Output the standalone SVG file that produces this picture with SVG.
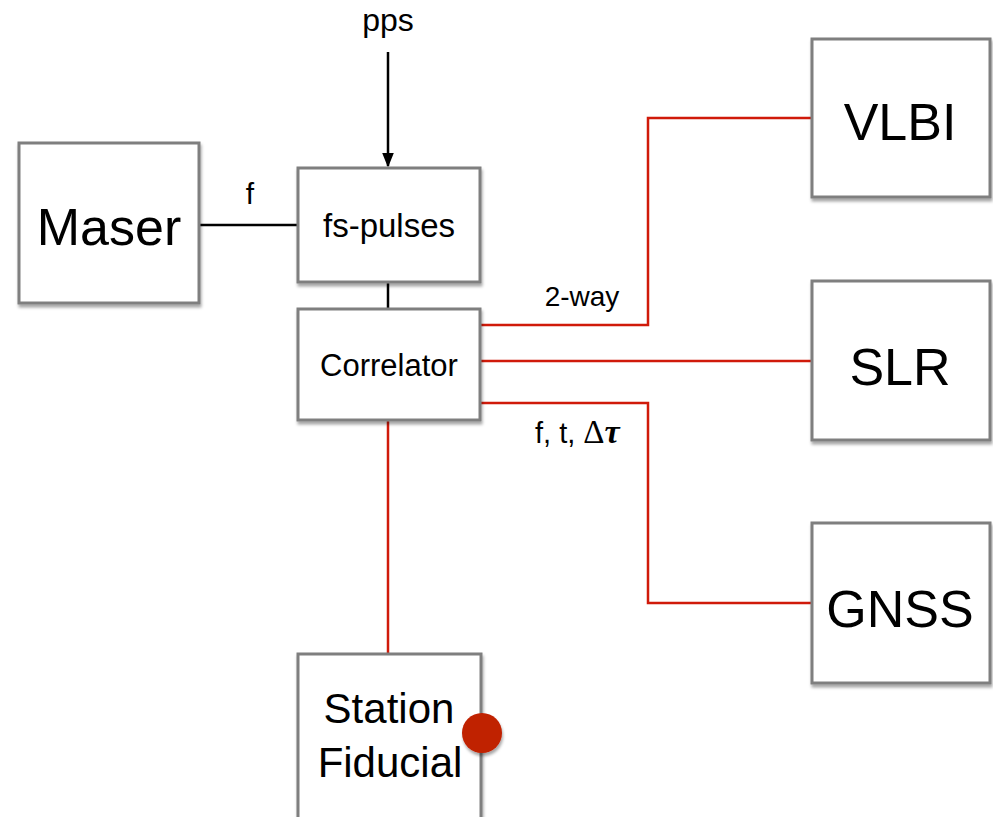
<svg xmlns="http://www.w3.org/2000/svg" width="993" height="817" viewBox="0 0 993 817">
<defs>
<filter id="sh" x="-10%" y="-10%" width="130%" height="130%">
<feDropShadow dx="1" dy="3" stdDeviation="1.5" flood-color="#000" flood-opacity="0.35"/>
</filter>
<marker id="arr" viewBox="0 0 10 10" refX="9" refY="5" markerWidth="6" markerHeight="6" orient="auto">
<path d="M0,1 L10,5 L0,9 z" fill="#000"/>
</marker>
<style>
.box{fill:#fff;stroke:#7f7f7f;stroke-width:3;filter:url(#sh)}
.t{font-family:"Liberation Sans",Arial,sans-serif;fill:#000;text-anchor:middle}
.blk{stroke:#000;stroke-width:2.5;fill:none}
.red{stroke:#d01a0a;stroke-width:2.5;fill:none}
</style>
</defs>
<rect width="993" height="817" fill="#fff"/>
<g id="connectors">
<line class="blk" x1="388" y1="52" x2="388" y2="166" marker-end="url(#arr)"/>
<line class="blk" x1="199" y1="225" x2="298" y2="225"/>
<line class="blk" x1="388" y1="282" x2="388" y2="309"/>
<polyline class="red" points="481,325 648,325 648,118 812,118"/>
<line class="red" x1="481" y1="361" x2="812" y2="361"/>
<polyline class="red" points="481,403 648,403 648,603 812,603"/>
<line class="red" x1="388" y1="420" x2="388" y2="654"/>
<text class="t" x="388" y="31" font-size="32">pps</text>
<text class="t" x="250" y="204" font-size="30">f</text>
<text class="t" x="582" y="306" font-size="28">2-way</text>
<text x="535" y="443" font-size="29" font-family="Liberation Sans,Arial,sans-serif">f, t, <tspan font-family="Liberation Serif,serif" font-size="33">Δ</tspan><tspan font-family="Liberation Serif,serif" font-style="italic" font-weight="bold" font-size="34">τ</tspan></text>
</g>
<g id="maser"><rect class="box" x="19" y="143" width="180" height="160"/><text class="t" x="109" y="245" font-size="52">Maser</text></g>
<g id="fs-pulses"><rect class="box" x="298" y="168" width="182" height="114"/><text class="t" x="389" y="237" font-size="33">fs-pulses</text></g>
<g id="correlator"><rect class="box" x="298" y="309" width="182" height="111"/><text class="t" x="389" y="376" font-size="31">Correlator</text></g>
<g id="vlbi"><rect class="box" x="812" y="39" width="178" height="158"/><text class="t" x="900" y="140" font-size="52">VLBI</text></g>
<g id="slr"><rect class="box" x="812" y="281" width="178" height="159"/><text class="t" x="900" y="385" font-size="52">SLR</text></g>
<g id="gnss"><rect class="box" x="812" y="523" width="178" height="160"/><text class="t" x="900" y="627" font-size="52">GNSS</text></g>
<g id="station-fiducial"><rect class="box" x="298" y="654" width="183" height="170"/><text class="t" x="389" y="723" font-size="42">Station</text><text class="t" x="390" y="777" font-size="42">Fiducial</text><circle cx="482" cy="733" r="20" fill="#c02000" filter="url(#sh)"/></g>
</svg>
